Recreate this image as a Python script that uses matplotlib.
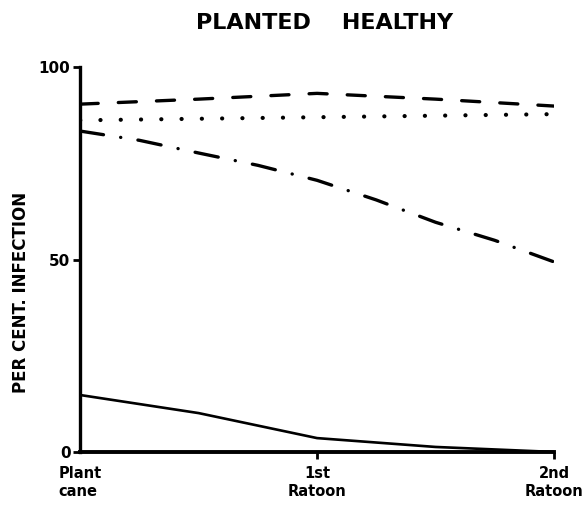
import matplotlib
matplotlib.use("Agg")
import matplotlib.pyplot as plt

# crop stage positions (0 = plant cane, 1 = 1st ratoon, 2 = 2nd ratoon)
stages = [0, 1, 2]
stage_labels = ["Plant\ncane", "1st\nRatoon", "2nd\nRatoon"]

# values (per cent infection)
dashed_x = [0, 0.5, 1, 1.5, 2]
dashed_y = [90.4, 91.7, 93.2, 91.7, 89.9]

dotted_x = [0, 1, 2]
dotted_y = [86.2, 87.0, 87.8]

dashdot_x = [0, 0.25, 0.5, 0.75, 1, 1.25, 1.5, 1.75, 2]
dashdot_y = [83.4, 81.0, 77.7, 74.5, 70.6, 65.5, 59.7, 55.0, 49.4]

solid_x = [0, 0.5, 1, 1.5, 2]
solid_y = [14.8, 10.1, 3.6, 1.3, 0.0]

yticks = [0, 50, 100]

plt.rcParams["font.family"] = ["DejaVu Sans"]
plt.rcParams["lines.scale_dashes"] = False

fig = plt.figure(figsize=(5.85, 5.13), dpi=100)
ax = fig.add_axes([0.137, 0.119, 0.81, 0.75])

# dash lengths in points (round caps add half a linewidth on each end)
ax.plot(dashed_x, dashed_y, color="black", lw=2.4, dashes=(13, 14.5),
        dash_capstyle="round")
ax.plot(dotted_x, dotted_y, color="black", lw=3.0, dashes=(0.1, 14.5),
        dash_capstyle="round")
ax.plot(dashdot_x, dashdot_y, color="black", lw=2.4, dashes=(17, 12.5, 0.1, 12.5),
        dash_capstyle="round")
ax.plot(solid_x, solid_y, color="black", lw=1.9)

ax.set_xlim(0, 2)
ax.set_ylim(0, 100)

for side in ["top", "right"]:
    ax.spines[side].set_visible(False)
ax.spines["left"].set_linewidth(2.4)
ax.spines["bottom"].set_linewidth(2.8)

ax.set_yticks(yticks)
ax.set_yticklabels([str(v) for v in yticks], fontsize=11, fontweight="bold")
ax.tick_params(axis="y", direction="out", length=5, width=2, pad=2)

ax.set_xticks(stages)
ax.set_xticklabels(stage_labels, fontsize=10.5, fontweight="bold", linespacing=1.25)
ax.tick_params(axis="x", direction="out", length=5, width=2, pad=5)
for lab in ax.get_xticklabels():
    lab.set_multialignment("center")
ax.get_xticklabels()[0].set_multialignment("left")
ax.xaxis.get_major_ticks()[0].tick1line.set_visible(False)

ax.set_ylabel("PER CENT. INFECTION", fontsize=12, fontweight="bold")
ax.yaxis.set_label_coords(-0.105, 0.415)
fig.text(0.554, 0.955, "PLANTED    HEALTHY", ha="center", va="center",
         fontsize=16, fontweight="bold")

plt.savefig("out.png", dpi=100)
